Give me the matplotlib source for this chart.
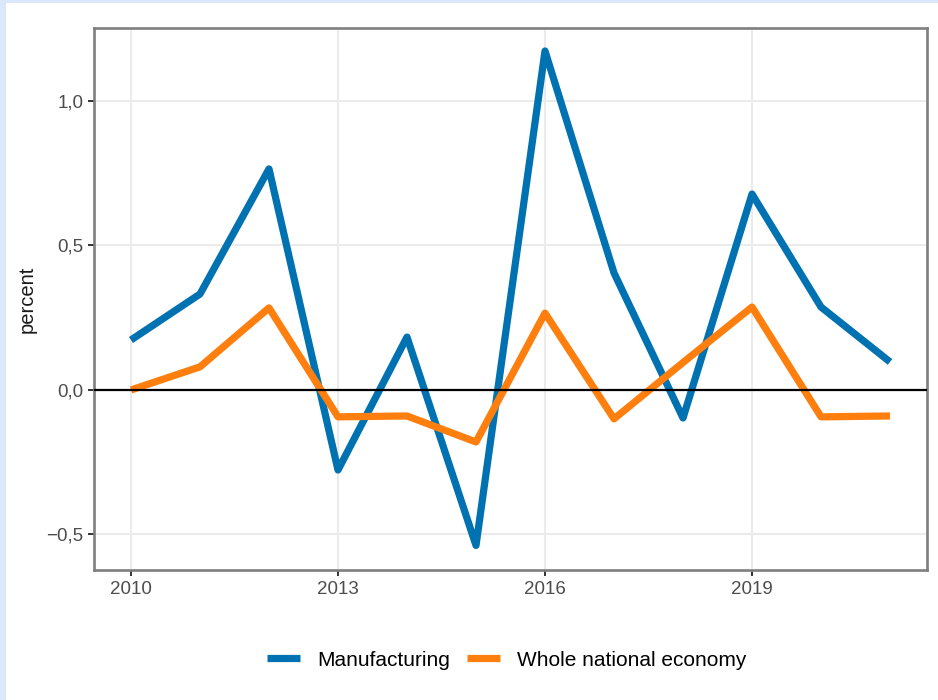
import matplotlib
matplotlib.use("Agg")
import matplotlib.pyplot as plt
from matplotlib.ticker import FuncFormatter, FixedLocator
from matplotlib.patches import Rectangle

years = [2010, 2011, 2012, 2013, 2014, 2015, 2016, 2017, 2018, 2019, 2020, 2021]
manufacturing = [0.173, 0.332, 0.765, -0.277, 0.183, -0.538, 1.173, 0.405, -0.097, 0.678, 0.287, 0.097]
whole_economy = [0.0, 0.08, 0.284, -0.093, -0.09, -0.18, 0.266, -0.1, 0.095, 0.287, -0.093, -0.09]
series_names = ["Manufacturing", "Whole national economy"]
colors = ["#0072B2", "#FF7F0E"]
x_ticks = [2010, 2013, 2016, 2019]
y_ticks = [-0.5, 0.0, 0.5, 1.0]
y_label = "percent"

plt.rcParams['font.family'] = ['Liberation Sans', 'DejaVu Sans']

fig = plt.figure(figsize=(9.38, 7.0), dpi=100)
fig.patch.set_facecolor("#dbe8fb")
fig.patches.append(Rectangle((6/938, 0), 1 - 6/938, 1 - 3/700, transform=fig.transFigure,
                             facecolor="white", edgecolor="none", zorder=-10))

ax = fig.add_axes([94/938, 1 - 570/700, (927 - 94)/938, (570 - 28)/700])
ax.set_zorder(1)
ax.set_facecolor("white")

for vals, name, c in zip([manufacturing, whole_economy], series_names, colors):
    ax.plot(years, vals, color=c, lw=5.2, label=name, solid_capstyle="butt",
            solid_joinstyle="round", zorder=3)

ax.axhline(0, color="black", lw=1.6, zorder=4)

ax.set_xlim(2010 - 0.536, 2021 + 0.536)
ax.set_ylim(-0.623, 1.2526)
ax.xaxis.set_major_locator(FixedLocator(x_ticks))
ax.yaxis.set_major_locator(FixedLocator(y_ticks))

def yfmt(v, pos):
    s = f"{abs(v):.1f}".replace(".", ",")
    return ("\u2212" + s) if v < 0 else s

ax.yaxis.set_major_formatter(FuncFormatter(yfmt))
ax.grid(True, color="#ebebeb", lw=1.5, zorder=1)
ax.set_axisbelow(True)
for sp in ax.spines.values():
    sp.set_color("#7f7f7f")
    sp.set_linewidth(1.9)

ax.tick_params(axis="both", colors="#333333", labelcolor="#4d4d4d", labelsize=13.5,
               length=4.3, width=1.4, pad=3.5)
ax.set_ylabel(y_label, fontsize=14.5, color="#1a1a1a", labelpad=7)

handles, labels = ax.get_legend_handles_labels()
fig.legend(handles, labels, loc="center", bbox_to_anchor=(0.54, 1 - 660/700),
           ncol=2, frameon=False, fontsize=15, handlelength=1.6, handletextpad=0.8,
           columnspacing=0.8)

fig.savefig("out.png", dpi=100, facecolor=fig.get_facecolor())
